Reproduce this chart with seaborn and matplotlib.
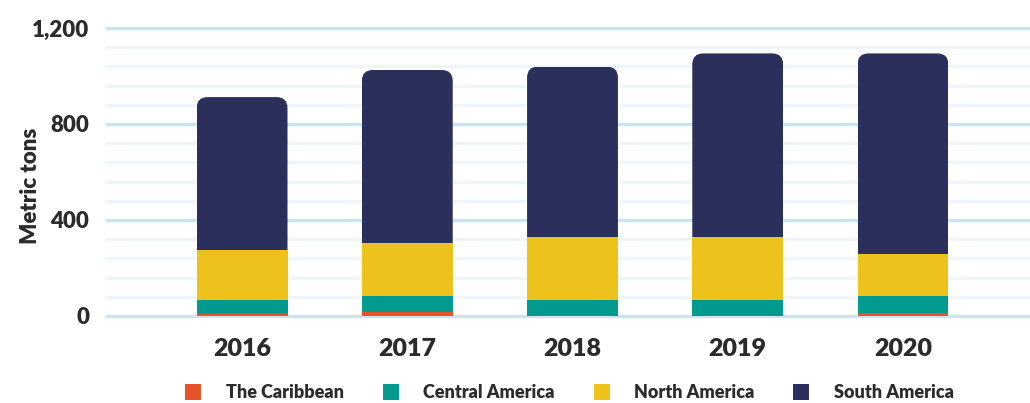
import numpy as np
import pandas as pd
import matplotlib
matplotlib.use("Agg")
import matplotlib.pyplot as plt
from matplotlib.patches import FancyBboxPatch
from matplotlib.lines import Line2D
from matplotlib.ticker import MultipleLocator
import seaborn as sns

# Data (metric tons)
years = ["2016", "2017", "2018", "2019", "2020"]
caribbean = [8, 15, 0, 0, 12]
central_america = [59, 70, 67, 67, 73]
north_america = [208, 219, 263, 263, 173]
south_america = [637, 721, 709, 764, 836]

regions = ["The Caribbean", "Central America", "North America", "South America"]
colors = ["#E8542A", "#009B8F", "#EEC21C", "#2B2F5B"]

sns.set_theme(style="white")
plt.rcParams['font.family'] = ['Lato', 'DejaVu Sans']
text_color = "#2b2b2b"

df = pd.DataFrame({
    "year": years,
    "The Caribbean": caribbean,
    "Central America": central_america,
    "North America": north_america,
    "South America": south_america,
})

fig = plt.figure(figsize=(10.3, 4.03), dpi=100)
ax = fig.add_axes([0.103, 0.210, 0.897, 0.7325])

# Stacked bars: draw cumulative totals from the top series down
bar_w = 0.55
cum = df[regions].cumsum(axis=1)
for i in range(len(regions) - 1, -1, -1):
    sns.barplot(x=df["year"], y=cum[regions[i]], color=colors[i], width=bar_w,
                saturation=1, ax=ax, zorder=3, linewidth=0)

# Round the top corners of the total bars
total_bars = ax.patches[:len(years)]
ax.set_xlim(-0.823, 4.769)
ax.set_ylim(-10, 1220)
fig.canvas.draw()
px_x = ax.transData.transform((1, 0))[0] - ax.transData.transform((0, 0))[0]
px_y = ax.transData.transform((0, 1))[1] - ax.transData.transform((0, 0))[1]
r = 11 / px_x
asp = px_x / px_y
for bar in total_bars:
    x0, w, h = bar.get_x(), bar.get_width(), bar.get_height()
    clip = FancyBboxPatch((x0, -200), w, h + 200,
                          boxstyle=f"round,pad=0,rounding_size={r}",
                          mutation_aspect=asp, transform=ax.transData,
                          facecolor="none", edgecolor="none")
    ax.add_patch(clip)
    bar.set_clip_path(clip)

# Grid
ax.yaxis.set_major_locator(MultipleLocator(400))
ax.yaxis.set_minor_locator(MultipleLocator(80))
ax.grid(axis="y", which="major", color="#cde3f0", linewidth=2.4, zorder=0)
ax.grid(axis="y", which="minor", color="#f0f5f9", linewidth=2.4, zorder=0)
ax.set_axisbelow(True)
for s in ax.spines.values():
    s.set_visible(False)
ax.tick_params(axis="both", which="both", length=0)
ax.tick_params(axis="y", pad=12)
ax.tick_params(axis="x", pad=14)

ax.set_yticks([0, 400, 800, 1200])
ax.set_yticklabels(["0", "400", "800", "1,200"], fontsize=16, fontweight="heavy",
                   color=text_color)
ax.set_xticks(range(len(years)))
ax.set_xticklabels(years, fontsize=18, fontweight="heavy", color=text_color)
ax.set_xlabel("")
ax.set_ylabel("Metric tons", fontsize=16, fontweight="heavy", color=text_color)
ax.yaxis.set_label_coords(-0.07, 0.45)

handles = [Line2D([0], [0], marker="s", linestyle="", markersize=11,
                  markerfacecolor=c, markeredgewidth=0) for c in colors]
fig.legend(handles, regions, loc="center", bbox_to_anchor=(0.548, 0.025),
           ncol=4, frameon=False, prop={"size": 13, "weight": "heavy"},
           labelcolor=text_color, columnspacing=1.6, handletextpad=0.8)

fig.savefig("out.png", dpi=100)
